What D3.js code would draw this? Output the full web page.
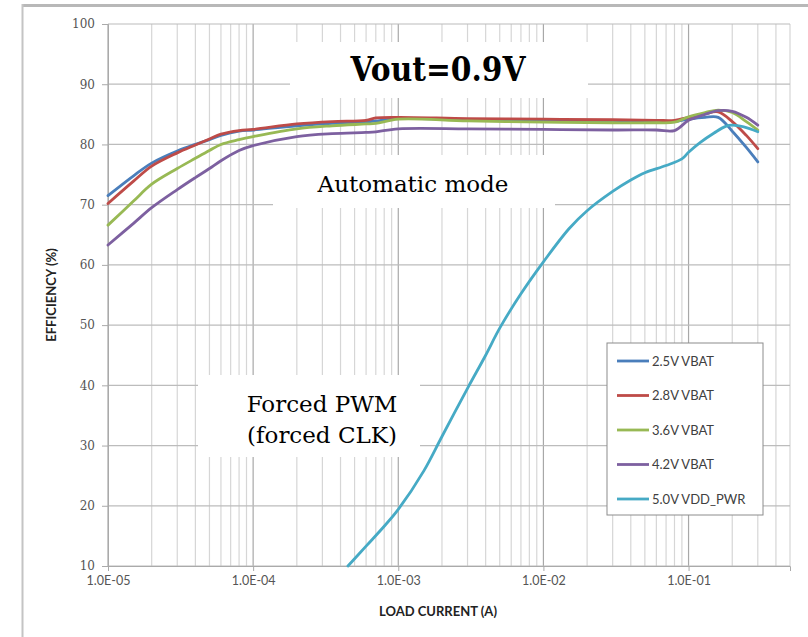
<!DOCTYPE html>
<html>
<head>
<meta charset="utf-8">
<script src="https://cdn.jsdelivr.net/npm/d3@7"></script>
<style>
  body { margin: 0; background: #fff; }
  svg { display: block; }
</style>
</head>
<body>
<svg id="chart"></svg>
<script>
// load current (A) and efficiency (%)
const vbatCurrent = [1e-5, 1.5e-5, 2e-5, 3e-5, 4e-5, 5e-5, 6e-5, 8e-5, 1e-4, 2e-4, 3.5e-4, 6e-4, 7e-4,
    1e-3, 3e-3, 1e-2, 3e-2, 6e-2, 8e-2, 1e-1, 1.3e-1, 1.6e-1, 2e-1, 2.5e-1, 3e-1];
const eff25 = [71.5, 74.8, 76.9, 78.9, 80.0, 80.8, 81.5, 82.2, 82.4, 83.1, 83.5, 83.7, 83.9,
    84.3, 84.1, 84.0, 83.9, 83.8, 83.8, 84.2, 84.5, 84.5, 82.2, 79.5, 77.1];
const eff28 = [70.2, 73.9, 76.4, 78.6, 79.9, 80.9, 81.7, 82.3, 82.5, 83.4, 83.8, 84.0, 84.4,
    84.5, 84.3, 84.2, 84.1, 84.0, 84.0, 84.5, 85.1, 85.4, 83.8, 81.5, 79.3];
const eff36 = [66.6, 70.6, 73.4, 76.0, 77.7, 79.0, 80.0, 80.8, 81.3, 82.6, 83.1, 83.4, 83.5,
    84.2, 83.9, 83.7, 83.6, 83.6, 83.7, 84.6, 85.3, 85.7, 85.3, 83.8, 82.4];
const eff42 = [63.3, 66.9, 69.5, 72.5, 74.5, 76.0, 77.3, 79.0, 79.8, 81.3, 81.8, 82.0, 82.1,
    82.6, 82.6, 82.5, 82.4, 82.4, 82.3, 84.0, 85.0, 85.6, 85.5, 84.5, 83.2];

const pwrCurrent = [4.5e-4, 6e-4, 8e-4, 1e-3, 1.5e-3, 2e-3, 3e-3, 4e-3, 5e-3, 7e-3, 1e-2, 1.5e-2,
    2e-2, 3e-2, 4e-2, 5e-2, 7e-2, 9e-2, 1e-1, 1.2e-1, 1.5e-1, 1.8e-1, 2e-1, 2.4e-1, 3e-1];
const eff50 = [10.0, 13.3, 16.6, 19.4, 25.8, 31.5, 39.5, 45.0, 49.5, 55.2, 60.5, 66.0,
    69.0, 72.2, 74.1, 75.3, 76.5, 77.6, 78.7, 80.3, 81.9, 83.0, 83.2, 82.9, 82.1];

const seriesNames = ["2.5V VBAT", "2.8V VBAT", "3.6V VBAT", "4.2V VBAT", "5.0V VDD_PWR"];
const seriesColors = ["#4a7ebb", "#be4b48", "#98b954", "#7d60a0", "#46aac5"];
const xTicks = [1e-5, 1e-4, 1e-3, 1e-2, 1e-1];
const xTickLabels = ["1.0E-05", "1.0E-04", "1.0E-03", "1.0E-02", "1.0E-01"];
const yTicks = [10, 20, 30, 40, 50, 60, 70, 80, 90, 100];

const series = [
    { name: seriesNames[0], xs: vbatCurrent, ys: eff25 },
    { name: seriesNames[1], xs: vbatCurrent, ys: eff28 },
    { name: seriesNames[2], xs: vbatCurrent, ys: eff36 },
    { name: seriesNames[3], xs: vbatCurrent, ys: eff42 },
    { name: seriesNames[4], xs: pwrCurrent, ys: eff50 }
].map((s, i) => ({ ...s, color: seriesColors[i], points: s.xs.map((x, j) => [x, s.ys[j]]) }));

const width = 808, height = 637;
const margin = { top: 24, right: 18, bottom: 71, left: 108 };

const svg = d3.select("#chart").attr("width", width).attr("height", height);

const x = d3.scaleLog().domain([1e-5, 0.5]).range([margin.left, width - margin.right]);
const y = d3.scaleLinear().domain([10, 100]).range([height - margin.bottom, margin.top]);

// outer frame of the original slide picture
svg.append("line").attr("x1", 22).attr("x2", width).attr("y1", 5.5).attr("y2", 5.5)
    .attr("stroke", "#b8b8b8").attr("stroke-width", 3);
svg.append("line").attr("x1", 22.5).attr("x2", 22.5).attr("y1", 4).attr("y2", height)
    .attr("stroke", "#c4c4c4").attr("stroke-width", 2);

// gridlines
const minor = [];
for (let e = -5; e < 0; e++) {
    for (let m = 2; m <= 9; m++) {
        const v = m * Math.pow(10, e);
        if (v <= 0.5) minor.push(v);
    }
}
const grid = svg.append("g");
grid.selectAll(".vminor").data(minor).enter().append("line")
    .attr("x1", d => x(d)).attr("x2", d => x(d))
    .attr("y1", y(100)).attr("y2", y(10))
    .attr("stroke", "#d6d6d6").attr("stroke-width", 1.2);
grid.selectAll(".vmajor").data(xTicks).enter().append("line")
    .attr("x1", d => x(d)).attr("x2", d => x(d))
    .attr("y1", y(100)).attr("y2", y(10))
    .attr("stroke", "#a8a8a8").attr("stroke-width", 1.2);
grid.selectAll(".hline").data(yTicks).enter().append("line")
    .attr("x1", x(1e-5)).attr("x2", x(0.5))
    .attr("y1", d => y(d)).attr("y2", d => y(d))
    .attr("stroke", "#bcbcbc").attr("stroke-width", 1.2);

// axes
const xAxis = d3.axisBottom(x).tickValues(xTicks)
    .tickFormat((d, i) => xTickLabels[i]).tickSize(5).tickPadding(5);
const gx = svg.append("g").attr("transform", `translate(0,${y(10)})`).call(xAxis);
gx.select(".domain").attr("stroke", "#aaaaaa");
gx.selectAll(".tick line").attr("stroke", "#aaaaaa");
gx.selectAll("text").attr("font-family", "Lato, sans-serif").attr("font-size", 12.5)
    .attr("fill", "#555");

const yAxis = d3.axisLeft(y).tickValues(yTicks).tickSize(6).tickPadding(7);
const gy = svg.append("g").attr("transform", `translate(${x(1e-5)},0)`).call(yAxis);
gy.select(".domain").attr("stroke", "#aaaaaa");
gy.selectAll(".tick line").attr("stroke", "#aaaaaa");
gy.selectAll("text").attr("font-family", "'DejaVu Serif', serif").attr("font-size", 12)
    .attr("fill", "#555");

svg.append("text")
    .attr("x", 438).attr("y", 616)
    .attr("text-anchor", "middle")
    .attr("font-family", "Lato, sans-serif").attr("font-weight", "bold").attr("font-size", 13)
    .attr("fill", "#222")
    .text("LOAD CURRENT (A)");

svg.append("text")
    .attr("transform", "translate(56,295) rotate(-90)")
    .attr("text-anchor", "middle")
    .attr("font-family", "Lato, sans-serif").attr("font-weight", "bold").attr("font-size", 13)
    .attr("fill", "#222")
    .text("EFFICIENCY (%)");

// white annotation boxes that cover the grid
const notes = svg.append("g");
notes.append("rect").attr("x", 290).attr("y", 42).attr("width", 298).attr("height", 56).attr("fill", "#fff");
notes.append("rect").attr("x", 273).attr("y", 155).attr("width", 282).attr("height", 53).attr("fill", "#fff");
notes.append("rect").attr("x", 198).attr("y", 375).attr("width", 222).attr("height", 82).attr("fill", "#fff");

notes.append("text").attr("transform", "translate(438,81) scale(0.9,1)").attr("text-anchor", "middle")
    .attr("font-family", "'DejaVu Serif', serif").attr("font-weight", "bold").attr("font-size", 33)
    .attr("fill", "#000").text("Vout=0.9V");
notes.append("text").attr("x", 413).attr("y", 192).attr("text-anchor", "middle")
    .attr("font-family", "'DejaVu Serif', serif").attr("font-size", 23)
    .attr("fill", "#000").text("Automatic mode");
notes.append("text").attr("x", 322).attr("y", 412).attr("text-anchor", "middle")
    .attr("font-family", "'DejaVu Serif', serif").attr("font-size", 23)
    .attr("fill", "#000").text("Forced PWM");
notes.append("text").attr("x", 322).attr("y", 443).attr("text-anchor", "middle")
    .attr("font-family", "'DejaVu Serif', serif").attr("font-size", 23)
    .attr("fill", "#000").text("(forced CLK)");

// series lines
const line = d3.line()
    .x(d => x(d[0]))
    .y(d => y(d[1]))
    .curve(d3.curveCatmullRom.alpha(0.5));

svg.append("g").selectAll(".series").data(series).enter().append("path")
    .attr("class", "series")
    .attr("d", d => line(d.points))
    .attr("fill", "none")
    .attr("stroke", d => d.color)
    .attr("stroke-width", 2.8)
    .attr("stroke-linejoin", "round")
    .attr("stroke-linecap", "round");

// legend
const legend = svg.append("g").attr("transform", "translate(607,343)");
legend.append("rect").attr("width", 156).attr("height", 172)
    .attr("fill", "#fff").attr("stroke", "#8c8c8c").attr("stroke-width", 1);
const item = legend.selectAll(".item").data(series).enter().append("g")
    .attr("class", "item")
    .attr("transform", (d, i) => `translate(0,${18 + i * 34.5})`);
item.append("line").attr("x1", 10).attr("x2", 42).attr("y1", 0).attr("y2", 0)
    .attr("stroke", d => d.color).attr("stroke-width", 2.8);
item.append("text").attr("x", 45).attr("y", 0).attr("dy", "0.35em")
    .attr("font-family", "Lato, sans-serif").attr("font-size", 13)
    .attr("fill", "#404040")
    .text(d => d.name);
</script>
</body>
</html>
